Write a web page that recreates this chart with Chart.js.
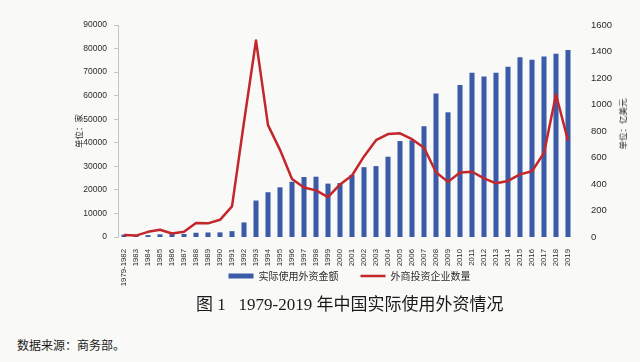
<!DOCTYPE html>
<html>
<head>
<meta charset="utf-8">
<title>1979-2019 年中国实际使用外资情况</title>
<script src="https://cdn.jsdelivr.net/npm/chart.js@4.4.1/dist/chart.umd.min.js"></script>
<style>
    html, body { margin:0; padding:0; background:#f9f9f7; }
    #page { position:relative; width:640px; height:362px; overflow:hidden; }
    #chart-box { position:absolute; left:0; top:0; width:640px; height:331px; }
    .axis-title-right {
        position:absolute; left:622px; top:124px;
        transform:translate(-50%, -50%) rotate(-90deg);
        white-space:nowrap; color:#2b2b2b;
        font:8.5px "Noto Sans CJK SC", sans-serif;
    }
    .caption {
        position:absolute; left:196px; top:290px; white-space:nowrap; color:#1a1a1a;
        font:17px "Liberation Serif", "Noto Sans CJK SC", serif;
    }
    .source {
        position:absolute; left:17px; top:336px; white-space:nowrap; color:#1a1a1a;
        font:12px "Noto Sans CJK SC", serif;
    }
</style>
</head>
<body>
<div id="page">
    <div id="chart-box"><canvas id="chart-fdi"></canvas></div>
    <div class="axis-title-right">单位：亿美元</div>
    <div class="caption">图 1&nbsp;&nbsp;&nbsp;1979-2019 年中国实际使用外资情况</div>
    <div class="source">数据来源：商务部。</div>
</div>
<script>
// Categories (x axis)
const years = ['1979-1982','1983','1984','1985','1986','1987','1988','1989','1990','1991',
    '1992','1993','1994','1995','1996','1997','1998','1999','2000','2001',
    '2002','2003','2004','2005','2006','2007','2008','2009','2010','2011',
    '2012','2013','2014','2015','2016','2017','2018','2019'];

// 实际使用外资金额, 亿美元 (right axis)
const fdiAmount = [18, 9, 14, 20, 22, 23, 32, 34, 35, 44,
    110, 275, 338, 375, 417, 453, 455, 403, 407, 469,
    527, 535, 606, 724, 730, 836, 1083, 941, 1147, 1240,
    1211, 1239, 1285, 1356, 1337, 1363, 1383, 1412];

// 外商投资企业数量, 家 (left axis)
const firmCount = [900, 600, 2200, 3100, 1500, 2200, 5900, 5800, 7300, 13000,
    48800, 83400, 47500, 37000, 24600, 21000, 19800, 16900, 22300, 26100,
    34200, 41100, 43700, 44000, 41500, 37900, 27500, 23400, 27400, 27700,
    24900, 22800, 23800, 26600, 27900, 35700, 60500, 40900];

const palette = { bar:'#3b5ba9', line:'#c3272b', text:'#2b2b2b', axis:'#c4c4c4' };
const tickFont = { family:'"Liberation Sans", Arial, sans-serif', size:8.5 };
const cjkFont = { family:'"Noto Sans CJK SC", sans-serif', size:8.5 };

// the legend sits beside the long first x label, so lift it into the axis band
const legendLift = {
    id:'legendLift',
    afterLayout(chart){
        const lg = chart.legend;
        if (!lg) { return; }
        const dy = 249 - lg.top;
        lg.top += dy;
        lg.bottom += dy;
    }
};

new Chart(document.getElementById('chart-fdi'), {
    type:'bar',
    data:{
        labels: years,
        datasets:[
            { type:'bar', label:'实际使用外资金额', data: fdiAmount, yAxisID:'yAmount',
              backgroundColor: palette.bar, borderWidth:0, barPercentage:0.42, categoryPercentage:1,
              pointStyle:'rect', order:2 },
            { type:'line', label:'外商投资企业数量', data: firmCount, yAxisID:'yFirms',
              borderColor: palette.line, backgroundColor: palette.line, borderWidth:2.5,
              pointRadius:0, pointStyle:'line', tension:0, borderJoinStyle:'round', order:1 }
        ]
    },
    options:{
        responsive:true,
        maintainAspectRatio:false,
        animation:false,
        layout:{ padding:{ left:59, top:25, right:0, bottom:0 } },
        plugins:{
            legend:{
                position:'bottom',
                labels:{
                    usePointStyle:true, pointStyleWidth:25, boxHeight:5, padding:22,
                    color: palette.text,
                    font:{ family:'"Noto Sans CJK SC", sans-serif', size:10 },
                    sort:(a, b) => a.datasetIndex - b.datasetIndex
                }
            },
            tooltip:{ enabled:false }
        },
        scales:{
            x:{
                grid:{ display:false },
                border:{ display:false },
                ticks:{ color: palette.text, font:{ family: tickFont.family, size:7.8 }, maxRotation:90, minRotation:90, autoSkip:false, padding:4 },
                afterFit:(s) => { s.height = 52; }
            },
            yFirms:{
                position:'left', min:0, max:90000,
                grid:{ drawOnChartArea:false, drawTicks:true, tickLength:4, color: palette.axis },
                border:{ display:true, color: palette.axis },
                ticks:{ stepSize:10000, color: palette.text, font: tickFont, padding:7, callback:(v) => String(v) },
                title:{ display:true, text:'单位：家', color: palette.text, font: cjkFont, padding:{ top:15, bottom:0 } },
                afterFit:(s) => { s.width = 59; }
            },
            yAmount:{
                position:'right', min:0, max:1600,
                grid:{ display:false },
                border:{ display:false },
                ticks:{ stepSize:200, color: palette.text, font:{ family: tickFont.family, size:9.5 }, padding:9, callback:(v) => String(v) },
                afterFit:(s) => { s.width = 66; }
            }
        }
    },
    plugins:[legendLift]
});
</script>
</body>
</html>
